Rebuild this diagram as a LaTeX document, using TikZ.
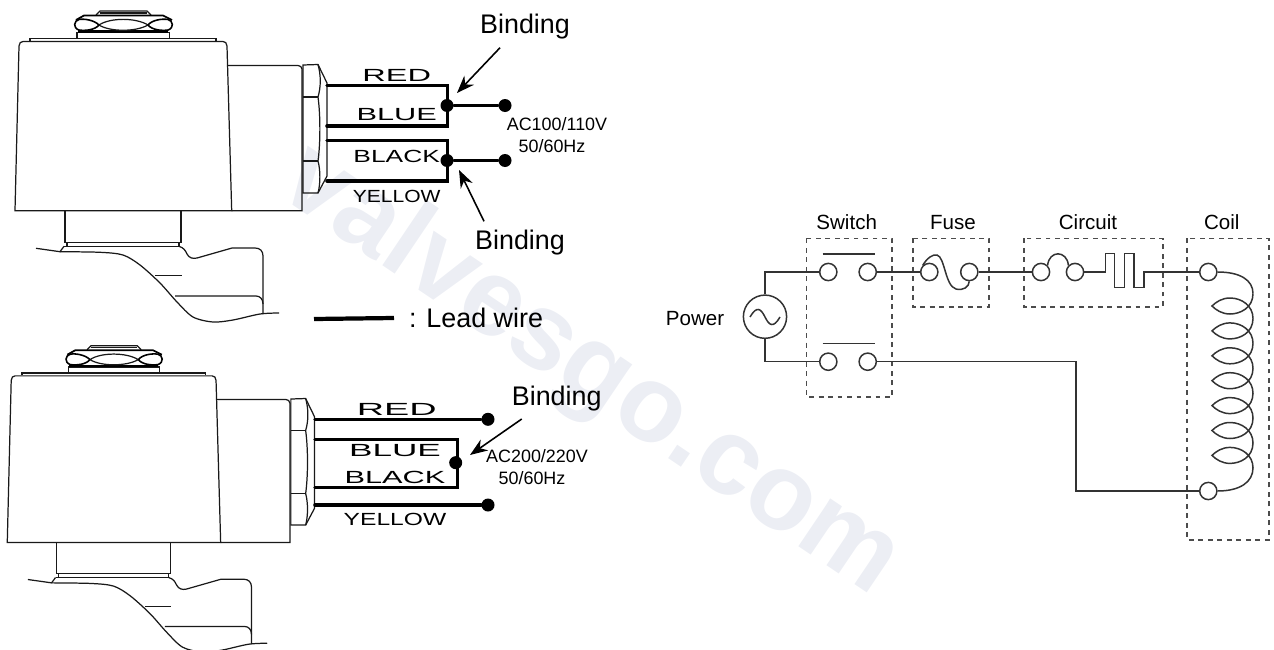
\documentclass[tikz,border=0pt]{standalone}
\usepackage{fontspec}
\setmainfont{Liberation Sans}
\usetikzlibrary{arrows.meta}
\definecolor{markgray}{RGB}{236,238,244}
\tikzset{
	thin wire/.style={line width=0.85pt, color=black!80},
	body line/.style={line width=0.7pt, color=black!90},
	lead/.style={line width=2pt, line cap=round, line join=miter},
	box/.style={line width=0.85pt, color=black!70, dash pattern=on 2.8pt off 2.6pt},
	contact/.style={circle, draw=black!80, line width=0.85pt, fill=white, minimum size=9.8pt, inner sep=0pt},
	tag/.style={font=\fontsize{11.7}{12}\selectfont},
	big tag/.style={font=\fontsize{15.3}{16}\selectfont},
	wire name/.style={font=\fontsize{10}{10}\selectfont, transform shape, inner sep=0pt},
	volt/.style={font=\fontsize{10.2}{10}\selectfont, inner sep=0pt},
	dot/.style={circle, fill=black, minimum size=7.4pt, inner sep=0pt},
	pointer/.style={line width=0.9pt, -{Stealth[length=10pt, width=7.5pt]}}
}
\def\valvebody{
	% coil and plate
	\draw[body line] (15, 210.7) -- (19, 46) .. controls (19, 43) and (21, 41.5) .. (23, 41.5) -- (223, 41.5) .. controls (225, 41.5) and (227, 43) .. (227, 46) -- (231.7, 210.7) -- cycle;
	\draw[body line] (30, 41) -- (30, 38.5) -- (216, 38.5) -- (216, 41);
	\draw[body line] (77, 38.5) -- (77, 32.5) -- (169.5, 32.5) -- (169.5, 38.5);
	\draw[line width=1.3pt] (78, 31.5) -- (168, 31.5);
	% nut
	\draw[body line] (96, 15) -- (100, 11) -- (147, 11) -- (151, 15);
	\draw[body line] (100, 13) -- (147, 13);
	\draw[line width=1pt] (76, 20) -- (84, 15.5) -- (163, 15.5) -- (172, 20);
	\draw[body line] (99, 25) .. controls (110, 17.5) and (136, 17.5) .. (148, 25) .. controls (136, 32) and (110, 32) .. (99, 25);
	\draw[line width=0.9pt] (99, 25) .. controls (94, 20) and (84, 18.5) .. (79, 19.5) .. controls (74, 20.5) and (72.5, 28) .. (79, 30) .. controls (85, 31) and (95, 30) .. (99, 25);
	\draw[line width=0.9pt] (148, 25) .. controls (152, 20) and (162, 18.5) .. (168, 19.5) .. controls (173, 20.5) and (174.5, 28) .. (168, 30) .. controls (162, 31) and (152, 30) .. (148, 25);
	% connector
	\draw[body line] (228, 65.5) -- (298, 65.5) .. controls (300, 65.5) and (302, 67) .. (302, 69) -- (302, 210.7) -- (231.7, 210.7);
	\draw[body line] (303, 65) -- (318, 64.5) -- (327, 83) -- (327, 176) -- (318, 193) -- (303, 193) -- cycle;
	\draw[body line] (303, 97) -- (318, 97);
	\draw[body line] (303, 161) -- (318, 161);
	\draw[body line] (318, 64.5) .. controls (321, 75) and (321, 87) .. (318, 97) .. controls (320.5, 115) and (320.5, 143) .. (318, 161) .. controls (320.5, 170) and (320.5, 184) .. (318, 193);
	% stem
	\draw[body line] (65, 210.7) -- (65, 242.5) -- (181, 242.5) -- (181, 210.7);
	\draw[body line] (67, 242.5) -- (67, 246.3);
	\draw[body line] (179, 242.5) -- (179, 246.3);
	\draw[body line] (64, 246.3) -- (179, 246.3);
	\draw[body line] (36, 248.3) -- (60, 251.7) -- (64, 246.3);
	\draw[body line] plot[smooth] coordinates {(60, 251.7) (100, 252.3) (123, 255) (140, 265) (160, 283) (177, 302) (193, 317) (213, 322) (233, 320) (260, 314) (279, 313)};
	\draw[body line] (179, 246.3) .. controls (184, 248) and (185, 250) .. (187, 254) .. controls (189, 258) and (193, 259) .. (197, 258) -- (232, 248) -- (255, 248) .. controls (260, 248) and (263, 251) .. (263, 256) -- (263, 314);
	\draw[body line] (155, 275.6) -- (181.5, 275.6);
	\draw[body line] (175, 296) -- (256, 296) .. controls (260, 296) and (263, 299) .. (263, 304);
}

\begin{document}
\begin{tikzpicture}[x=0.02cm, y=-0.02cm]
	\useasboundingbox (0, 0) rectangle (1274, 649);
	
	% watermark
	\node[rotate=-34, color=markgray, font=\bfseries\fontsize{62}{64}\selectfont, inner sep=0pt] (mark) at (590, 372) {valvesgo.com};
	
	% upper valve
	\valvebody
	
	\coordinate (redA) at (327, 85.5);
	\coordinate (redB) at (447.7, 85.5);
	\coordinate (blueA) at (327, 126);
	\coordinate (blueB) at (447.7, 126);
	\coordinate (blackA) at (327, 140.5);
	\coordinate (blackB) at (447.7, 140.5);
	\coordinate (yellowA) at (327, 181);
	\coordinate (yellowB) at (447.7, 181);
	\draw[lead] (redA) -- (redB) -- (blueB) -- (blueA);
	\draw[lead] (blackA) -- (blackB) -- (yellowB) -- (yellowA);
	\node[dot] (joinA) at (447, 105.5) {};
	\node[dot] (endA) at (505, 105.5) {};
	\node[dot] (joinB) at (447, 160.5) {};
	\node[dot] (endB) at (505, 160.5) {};
	\draw[lead] (joinA) -- (endA);
	\draw[lead] (joinB) -- (endB);
	
	\node[wire name, xscale=1.85] (red) at (396.7, 75) {RED};
	\node[wire name, xscale=1.75] (blue) at (396.7, 115) {BLUE};
	\node[wire name, xscale=1.5] (black) at (396.7, 156) {BLACK};
	\node[wire name, xscale=1.2] (yellow) at (396.7, 196) {YELLOW};
	
	\node[big tag] (bindA) at (525, 27) {Binding};
	\node[big tag] (bindB) at (520, 243) {Binding};
	\coordinate (aimA) at (457, 93);
	\coordinate (aimB) at (459, 170);
	\draw[pointer] (bindA.south) ++(-25, 2) -- (aimA);
	\draw[pointer] (bindB.north) ++(-36, -3) -- (aimB);
	\node[volt] (voltA) at (557, 124) {AC100/110V};
	\node[volt] (hzA) at (552, 146) {50/60Hz};
	
	% lead wire key
	\coordinate (keyA) at (314, 319);
	\coordinate (keyB) at (394, 318);
	\draw[line width=2.4pt] (keyA) -- (keyB);
	\node[big tag] (key) at (476, 318) {: Lead wire};
	
	% lower valve
	\begin{scope}[shift={(-7.5, 335)}, x=0.0197cm, y=-0.0197cm]
		\valvebody
	\end{scope}
	
	\coordinate (redC) at (315, 419.3);
	\coordinate (blueC) at (315, 439.3);
	\coordinate (blueD) at (457.7, 439.3);
	\coordinate (blackC) at (315, 487.3);
	\coordinate (blackD) at (457.7, 487.3);
	\coordinate (yellowC) at (315, 505);
	\draw[lead] (blueC) -- (blueD) -- (blackD) -- (blackC);
	\node[dot] (endC) at (488, 419.3) {};
	\node[dot] (endD) at (488, 505) {};
	\node[dot] (joinC) at (455.7, 462.7) {};
	\draw[lead] (redC) -- (endC);
	\draw[lead] (yellowC) -- (endD);
	
	\node[wire name, xscale=2.15] (red2) at (396.7, 409.3) {RED};
	\node[wire name, xscale=2] (blue2) at (395, 451) {BLUE};
	\node[wire name, xscale=1.75] (black2) at (395, 477.3) {BLACK};
	\node[wire name, xscale=1.4] (yellow2) at (395, 519) {YELLOW};
	
	\node[big tag] (bindC) at (556.7, 398.3) {Binding};
	\coordinate (aimC) at (470, 455);
	\draw[pointer] (bindC.south) ++(-35, 2) -- (aimC);
	\node[volt] (voltC) at (537, 456) {AC200/220V};
	\node[volt] (hzC) at (532, 477.7) {50/60Hz};
	
	% circuit boxes
	\draw[box] (806.5, 238.3) rectangle (892, 397);
	\draw[box] (913, 238.3) rectangle (989, 307);
	\draw[box] (1024, 238.3) rectangle (1163, 307);
	\draw[box] (1187, 238.3) rectangle (1269, 540);
	
	\node[tag] (switch) at (846.7, 221.7) {Switch};
	\node[tag] (fuse) at (953, 223) {Fuse};
	\node[tag] (circuit) at (1088, 222) {Circuit};
	\node[tag] (coil) at (1221.7, 222) {Coil};
	\node[tag] (power) at (695, 319) {Power};
	
	% power
	\node[circle, draw=black!80, line width=0.85pt, minimum size=24.6pt, inner sep=0pt] (src) at (765, 316.7) {};
	\draw[thin wire] (750, 317) .. controls (757, 305) and (761, 309) .. (765, 317) .. controls (769, 325) and (773, 329) .. (780, 317);
	
	% contacts
	\node[contact] (swA) at (828.3, 272) {};
	\node[contact] (swB) at (867.7, 272) {};
	\node[contact] (swC) at (828.3, 361.7) {};
	\node[contact] (swD) at (867.7, 361.7) {};
	\node[contact] (fuseA) at (929.3, 272) {};
	\node[contact] (fuseB) at (969.3, 272) {};
	\node[contact] (cutA) at (1041, 272) {};
	\node[contact] (cutB) at (1075, 272) {};
	\node[contact] (coilA) at (1208.3, 272) {};
	\node[contact] (coilB) at (1208.3, 491) {};
	
	\coordinate (barA) at (822.7, 254);
	\coordinate (barB) at (875, 254);
	\coordinate (barC) at (822.7, 343.3);
	\coordinate (barD) at (875, 343.3);
	\draw[thin wire] (barA) -- (barB);
	\draw[thin wire] (barC) -- (barD);
	
	% wires
	\draw[thin wire] (src.north) |- (swA.west);
	\draw[thin wire] (src.south) |- (swC.west);
	\draw[thin wire] (swB) -- (fuseA);
	\draw[thin wire] (fuseB) -- (cutA);
	\draw[thin wire] (swD.east) -- (1076, 361.7) -- (1076, 491) -- (coilB.west);
	\draw[thin wire] (cutB.east) -- (1105.7, 272) -- (1105.7, 253.3) -- (1114.3, 253.3) -- (1114.3, 287.7) -- (1124.3, 287.7) -- (1124.3, 253.3) -- (1134, 253.3) -- (1134, 287.7) -- (1144, 287.7) -- (1144, 272) -- (coilA.west);
	
	% fuse link and circuit arc
	\draw[thin wire] (fuseA.north west) .. controls (927, 258) and (933, 254) .. (937, 255) .. controls (945, 257) and (945, 286) .. (956, 289) .. controls (963, 291) and (969, 287) .. (fuseB.south);
	\draw[thin wire] (cutA.north east) .. controls (1049, 250) and (1067, 250) .. (cutB.north west);
	
	% coil
	\draw[thin wire] (coilA.east) .. controls (1240, 272) and (1253, 280) .. (1253, 293.5);
	\foreach \y in {306, 330.9, 355.8, 380.7, 405.6, 430.5, 455.4} {
		\draw[thin wire] (1253, \y-12.5) .. controls (1253, \y+2) and (1240, \y+8) .. (1230, \y+8) .. controls (1222, \y+8) and (1216, \y+4) .. (1212, \y) .. controls (1216, \y-4) and (1222, \y-8) .. (1230, \y-8) .. controls (1242, \y-8) and (1253, \y) .. (1253, \y+12.5);
	}
	\draw[thin wire] (1253, 467.9) .. controls (1253, 482) and (1240, 491) .. (coilB.east);
\end{tikzpicture}
\end{document}
